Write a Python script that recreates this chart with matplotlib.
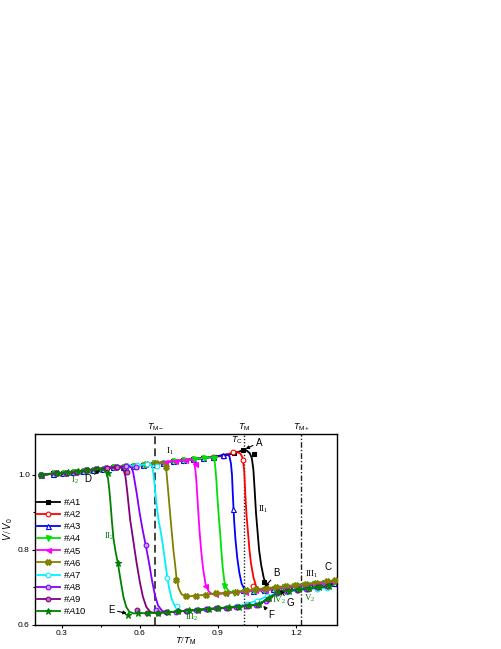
import matplotlib
matplotlib.use('Agg')
import matplotlib.pyplot as plt
from matplotlib.lines import Line2D

plt.rcParams['font.family'] = ['Liberation Sans', 'DejaVu Sans']
plt.rcParams['mathtext.fontset'] = 'custom'
plt.rcParams['mathtext.rm'] = 'Liberation Serif'
plt.rcParams['mathtext.it'] = 'Liberation Sans:italic'
plt.rcParams['mathtext.sf'] = 'Liberation Sans'
plt.rcParams['mathtext.bf'] = 'Liberation Sans:bold'

# ---------------- data (marker points and extra line-shape points in the drop) ----------------
A1_x = [0.220,0.267,0.305,0.344,0.382,0.421,0.459,0.498,0.536,0.575,0.613,0.652,0.690,0.729,0.767,0.806,0.844,0.883,0.921,0.960,0.998,1.037,1.075,1.114,1.152,1.191,1.229,1.268,1.306,1.345]
A1_y = [1.000,1.004,1.005,1.008,1.011,1.014,1.017,1.020,1.022,1.025,1.027,1.030,1.033,1.036,1.039,1.042,1.045,1.048,1.051,1.057,1.066,1.055,0.715,0.696,0.699,0.701,0.704,0.706,0.708,0.709]
A1_sx = [1.010,1.022,1.030,1.036,1.041,1.046,1.052,1.058,1.066,1.076,1.088,1.100]
A1_sy = [1.065,1.058,1.045,1.015,0.960,0.900,0.850,0.800,0.760,0.725,0.703,0.697]

A2_x = [0.220,0.266,0.304,0.343,0.381,0.420,0.458,0.497,0.535,0.574,0.612,0.651,0.689,0.728,0.766,0.805,0.843,0.882,0.920,0.959,0.997,1.036,1.074,1.113,1.151,1.190,1.228,1.267,1.305,1.344]
A2_y = [1.000,1.003,1.005,1.008,1.011,1.014,1.017,1.020,1.022,1.025,1.027,1.030,1.033,1.036,1.039,1.042,1.045,1.048,1.051,1.060,1.040,0.705,0.693,0.696,0.699,0.702,0.705,0.708,0.711,0.713]
A2_sx = [0.975,0.987,0.995,1.001,1.005,1.010,1.015,1.021,1.027,1.036,1.046,1.060]
A2_sy = [1.061,1.056,1.045,1.010,0.950,0.890,0.850,0.800,0.764,0.728,0.704,0.693]

A3_x = [0.220,0.266,0.305,0.343,0.382,0.420,0.459,0.497,0.536,0.574,0.613,0.651,0.690,0.728,0.767,0.805,0.844,0.882,0.921,0.959,0.998,1.036,1.075,1.113,1.152,1.190,1.229,1.267,1.306,1.344]
A3_y = [1.000,1.003,1.005,1.008,1.011,1.014,1.017,1.020,1.022,1.025,1.027,1.030,1.033,1.036,1.039,1.042,1.045,1.048,1.053,0.909,0.692,0.690,0.693,0.696,0.699,0.702,0.705,0.708,0.711,0.713]
A3_sx = [0.935,0.944,0.950,0.954,0.957,0.962,0.967,0.974,0.982,0.991,1.003,1.015]
A3_sy = [1.055,1.050,1.030,1.000,0.950,0.880,0.830,0.780,0.740,0.710,0.694,0.690]

A4_x = [0.220,0.269,0.307,0.346,0.384,0.423,0.461,0.500,0.538,0.577,0.615,0.654,0.692,0.731,0.769,0.808,0.846,0.885,0.923,0.962,1.000,1.039,1.077,1.116,1.154,1.193,1.231,1.270,1.308,1.347]
A4_y = [1.000,1.004,1.006,1.008,1.011,1.014,1.017,1.020,1.022,1.025,1.027,1.031,1.033,1.036,1.039,1.042,1.045,1.044,0.703,0.686,0.689,0.691,0.694,0.697,0.700,0.703,0.706,0.709,0.712,0.715]
A4_sx = [0.870,0.880,0.886,0.890,0.894,0.898,0.903,0.908,0.913,0.918,0.925,0.934,0.946,0.958]
A4_sy = [1.047,1.046,1.040,1.020,0.985,0.940,0.890,0.850,0.800,0.755,0.715,0.697,0.688,0.686]

A5_x = [0.220,0.273,0.311,0.350,0.388,0.427,0.465,0.504,0.542,0.581,0.619,0.658,0.696,0.735,0.773,0.812,0.850,0.889,0.927,0.966,1.004,1.043,1.081,1.120,1.158,1.197,1.235,1.274,1.312,1.351]
A5_y = [1.000,1.004,1.006,1.008,1.012,1.015,1.018,1.020,1.022,1.025,1.028,1.031,1.034,1.037,1.039,1.030,0.704,0.682,0.684,0.687,0.689,0.692,0.694,0.698,0.701,0.704,0.707,0.710,0.713,0.715]
A5_sx = [0.790,0.802,0.809,0.814,0.818,0.822,0.826,0.830,0.836,0.843,0.852,0.864,0.878]
A5_sy = [1.041,1.040,1.032,1.010,0.975,0.930,0.885,0.845,0.795,0.750,0.710,0.690,0.682]

A6_x = [0.220,0.277,0.316,0.354,0.393,0.431,0.470,0.508,0.547,0.585,0.624,0.662,0.701,0.739,0.778,0.816,0.855,0.893,0.932,0.970,1.009,1.047,1.086,1.124,1.163,1.201,1.240,1.278,1.317,1.350]
A6_y = [1.000,1.004,1.006,1.009,1.012,1.015,1.018,1.021,1.023,1.025,1.028,1.031,1.020,0.720,0.676,0.678,0.681,0.684,0.686,0.689,0.692,0.695,0.698,0.701,0.704,0.707,0.710,0.713,0.716,0.719]
A6_sx = [0.680,0.692,0.698,0.702,0.706,0.711,0.716,0.722,0.729,0.735,0.741,0.749,0.760,0.772]
A6_sy = [1.032,1.031,1.025,1.010,0.980,0.940,0.900,0.853,0.800,0.764,0.725,0.698,0.682,0.677]

A7_x = [0.220,0.280,0.318,0.357,0.395,0.434,0.472,0.511,0.549,0.588,0.626,0.665,0.703,0.742,0.780,0.819,0.857,0.896,0.934,0.973,1.011,1.050,1.088,1.127,1.165,1.204,1.242,1.281,1.319]
A7_y = [1.000,1.004,1.006,1.009,1.012,1.015,1.018,1.021,1.023,1.026,1.028,1.024,0.726,0.650,0.637,0.640,0.642,0.644,0.646,0.650,0.656,0.665,0.676,0.684,0.689,0.692,0.695,0.697,0.699]
A7_sx = [0.640,0.647,0.651,0.655,0.660,0.666,0.673,0.680,0.687,0.694,0.700,0.706,0.713,0.722,0.734,0.748,0.765]
A7_sy = [1.029,1.024,1.010,0.985,0.950,0.910,0.875,0.850,0.820,0.785,0.755,0.725,0.697,0.670,0.651,0.641,0.637]

A8_x = [0.220,0.278,0.316,0.355,0.393,0.432,0.470,0.509,0.547,0.586,0.624,0.663,0.701,0.740,0.778,0.817,0.855,0.894,0.932,0.971,1.009,1.048,1.086,1.125,1.163,1.202,1.240,1.279,1.317]
A8_y = [1.000,1.004,1.006,1.009,1.012,1.015,1.018,1.021,1.023,1.022,0.812,0.640,0.634,0.635,0.638,0.640,0.642,0.644,0.646,0.648,0.651,0.654,0.665,0.686,0.691,0.694,0.697,0.700,0.703]
A8_sx = [0.560,0.569,0.575,0.581,0.589,0.599,0.611,0.624,0.636,0.647,0.658,0.670,0.685]
A8_sy = [1.023,1.019,1.005,0.980,0.947,0.900,0.853,0.808,0.764,0.718,0.680,0.652,0.638]

A9_x = [0.220,0.283,0.321,0.360,0.398,0.437,0.475,0.514,0.552,0.591,0.629,0.668,0.706,0.745,0.783,0.822,0.860,0.899,0.937,0.976,1.014,1.053,1.091,1.130,1.168,1.207,1.245,1.284,1.322]
A9_y = [1.000,1.004,1.006,1.009,1.012,1.015,1.018,1.021,1.007,0.640,0.632,0.633,0.634,0.636,0.638,0.640,0.642,0.644,0.646,0.648,0.651,0.654,0.668,0.687,0.691,0.694,0.697,0.700,0.703]
A9_sx = [0.522,0.532,0.539,0.545,0.551,0.557,0.563,0.569,0.578,0.588,0.600,0.612,0.625,0.640,0.655]
A9_sy = [1.021,1.018,1.010,0.995,0.960,0.920,0.880,0.853,0.810,0.764,0.715,0.675,0.648,0.635,0.632]

A10_x = [0.220,0.286,0.325,0.363,0.402,0.440,0.479,0.517,0.556,0.594,0.633,0.671,0.710,0.748,0.787,0.825,0.864,0.902,0.941,0.979,1.018,1.056,1.095,1.133,1.172,1.210,1.249,1.287,1.326]
A10_y = [1.000,1.004,1.007,1.010,1.013,1.015,1.005,0.764,0.627,0.631,0.632,0.632,0.634,0.636,0.639,0.641,0.643,0.645,0.647,0.649,0.652,0.655,0.672,0.688,0.691,0.695,0.698,0.701,0.704]
A10_sx = [0.452,0.463,0.472,0.478,0.483,0.488,0.493,0.499,0.507,0.516,0.526,0.537,0.548,0.560,0.575]
A10_sy = [1.015,1.013,1.006,0.990,0.960,0.920,0.875,0.830,0.795,0.764,0.720,0.675,0.648,0.635,0.631]

series_names = ['#$\\mathit{A}$1', '#$\\mathit{A}$2', '#$\\mathit{A}$3', '#$\\mathit{A}$4', '#$\\mathit{A}$5',
                '#$\\mathit{A}$6', '#$\\mathit{A}$7', '#$\\mathit{A}$8', '#$\\mathit{A}$9', '#$\\mathit{A}$10']

vline_pos = [0.66, 1.00, 1.22]
vline_labels = ['$T_{\\mathsf{M-}}$', '$T_{\\mathsf{M}}$', '$T_{\\mathsf{M+}}$']

xticks = [0.3, 0.6, 0.9, 1.2]
yticks = [0.6, 0.8, 1.0]

# ---------------- styles ----------------
colors = ['#000000', '#ff0000', '#0000ff', '#00e000', '#ff00ff',
          '#808000', '#00f0ff', '#8000ff', '#800080', '#008000']
markers = ['s', 'o', '^', 'v', '<', 'X', 'o', 'o', 'o', '*']
faces = ['#000000', 'white', 'white', '#00e000', '#ff00ff',
         '#808000', 'white', '#c8a0ff', '#c070c0', '#008000']
msizes = [3.2, 3.4, 3.6, 3.6, 3.6, 4.0, 3.4, 3.4, 3.4, 4.6]

data = [(A1_x, A1_y, A1_sx, A1_sy), (A2_x, A2_y, A2_sx, A2_sy), (A3_x, A3_y, A3_sx, A3_sy),
        (A4_x, A4_y, A4_sx, A4_sy), (A5_x, A5_y, A5_sx, A5_sy), (A6_x, A6_y, A6_sx, A6_sy),
        (A7_x, A7_y, A7_sx, A7_sy), (A8_x, A8_y, A8_sx, A8_sy), (A9_x, A9_y, A9_sx, A9_sy),
        (A10_x, A10_y, A10_sx, A10_sy)]

fig = plt.figure(figsize=(5.02, 6.49), dpi=100)
ax = fig.add_axes([0.0697, 0.037, 0.601, 0.2943])

# vertical reference lines
vstyles = [dict(ls=(0, (4, 2.2)), lw=1.4, color='#444444'),
           dict(ls=(0, (1, 1.3)), lw=1.0, color='#222222'),
           dict(ls=(0, (4, 1.5, 1, 1.5)), lw=1.0, color='#222222')]
for xv, st in zip(vline_pos, vstyles):
    ax.axvline(xv, zorder=1.5, **st)

handles = []
for i, (mx, my, sx, sy) in enumerate(data):
    lx = [x for x in mx if x < sx[0]] + sx + [x for x in mx if x > sx[-1]]
    ly = [y for x, y in zip(mx, my) if x < sx[0]] + sy + [y for x, y in zip(mx, my) if x > sx[-1]]
    ax.plot(lx, ly, color=colors[i], lw=1.3, zorder=2 + i * 0.1, solid_capstyle='round')
    ax.plot(mx, my, ls='none', marker=markers[i], ms=msizes[i], mfc=faces[i], mec=colors[i],
            mew=0.8, zorder=2.05 + i * 0.1)
    handles.append(Line2D([], [], color=colors[i], lw=1.3, marker=markers[i], ms=msizes[i],
                          mfc=faces[i], mec=colors[i], mew=0.8))

ax.set_xlim(0.1975, 1.356)
ax.set_ylim(0.6, 1.109)
ax.set_xticks(xticks)
ax.set_yticks(yticks)
ax.set_xticks([0.45, 0.75, 1.05], minor=True)
ax.set_yticks([0.7, 0.9], minor=True)
ax.set_xticklabels(['0.3', '0.6', '0.9', '1.2'])
ax.set_yticklabels(['0.6', '0.8', '1.0'])
ax.tick_params(which='major', direction='out', length=2.5, width=0.8, labelsize=6, pad=1.2)
ax.tick_params(which='minor', direction='out', length=1.5, width=0.8)
for s in ax.spines.values():
    s.set_linewidth(1.0)

ax.set_xlabel('$T/T_{\\mathsf{M}}$', fontsize=6.8, labelpad=-1.5)
ax.set_ylabel('$V\\,/\\,V_{\\mathsf{0}}$', fontsize=7, labelpad=2)

# labels above the vertical lines
for xv, lab in zip(vline_pos, vline_labels):
    ax.annotate(lab, xy=(xv, 1.0), xycoords=('data', 'axes fraction'), xytext=(0, 0.5),
                textcoords='offset points', ha='center', va='bottom', fontsize=6.5)

ax.text(0.972, 1.091, '$T_{\\mathsf{C}}$', fontsize=6.5, ha='center', va='center')

# letter annotations with arrows
arrow = dict(arrowstyle='-|>', color='k', lw=0.8, mutation_scale=5, shrinkA=0, shrinkB=0)
ax.annotate('A', xy=(1.006, 1.069), xytext=(1.057, 1.086), fontsize=7, ha='center', va='center', arrowprops=arrow)
ax.annotate('B', xy=(1.081, 0.702), xytext=(1.126, 0.738), fontsize=7, ha='center', va='center', arrowprops=arrow)
ax.text(1.324, 0.755, 'C', fontsize=7, ha='center', va='center')
ax.annotate('D', xy=(0.447, 1.013), xytext=(0.402, 0.989), fontsize=7, ha='center', va='center', arrowprops=arrow)
ax.annotate('E', xy=(0.550, 0.631), xytext=(0.492, 0.640), fontsize=7, ha='center', va='center', arrowprops=arrow)
ax.annotate('F', xy=(1.074, 0.651), xytext=(1.106, 0.627), fontsize=7, ha='center', va='center', arrowprops=arrow)
ax.annotate('G', xy=(1.139, 0.693), xytext=(1.177, 0.658), fontsize=7, ha='center', va='center', arrowprops=arrow)

# roman-numeral stage labels
roman = [('I', '1', 0.716, 1.062, '#000000'), ('I', '2', 0.351, 0.987, '#008000'),
         ('II', '1', 1.074, 0.909, '#000000'), ('II', '2', 0.483, 0.837, '#008000'),
         ('III', '1', 1.262, 0.735, '#000000'), ('III', '2', 0.800, 0.620, '#008000'),
         ('IV', '2', 1.135, 0.665, '#008000'), ('V', '2', 1.252, 0.672, '#008000')]
for num, sub, xr, yr, c in roman:
    ax.text(xr, yr, '$\\mathrm{%s}_{\\mathrm{%s}}$' % (num, sub), color=c, fontsize=6.5,
            ha='center', va='center')

ax.legend(handles, series_names, loc='upper left', bbox_to_anchor=(0.0, 0.685), frameon=False,
          fontsize=6.8, labelspacing=0.12, handlelength=2.4, handletextpad=0.35,
          borderaxespad=0.1, borderpad=0.1)

fig.savefig('out.png', dpi=100)
